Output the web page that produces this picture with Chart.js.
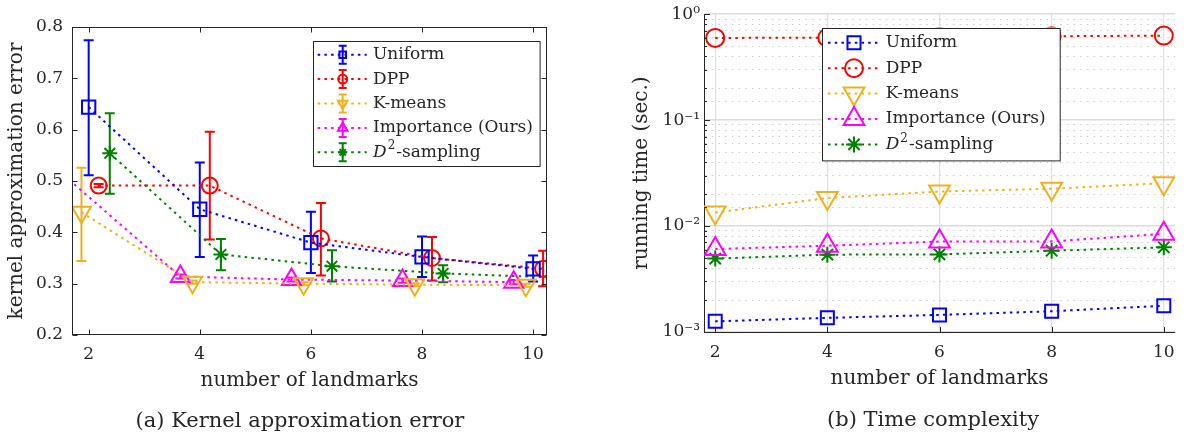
<!DOCTYPE html>
<html>
<head>
<meta charset="utf-8">
<script src="https://cdn.jsdelivr.net/npm/chart.js@4.4.0/dist/chart.umd.min.js"></script>
<style>
  body { margin: 0; background: #fff; width: 1189px; height: 434px; position: relative; overflow: hidden; }
  canvas { position: absolute; top: 0; }
  #errCanvas { left: 0; }
  #timeCanvas { left: 600px; }
  .caption { position: absolute; font-family: "DejaVu Serif"; font-size: 21px; line-height: 24px;
             color: #262626; white-space: nowrap; transform: translateX(-50%); }
</style>
</head>
<body>
<canvas id="errCanvas" width="600" height="434"></canvas>
<canvas id="timeCanvas" width="589" height="434"></canvas>
<div class="caption" style="left:300px; top:408px">(a) Kernel approximation error</div>
<div class="caption" style="left:933px; top:407px">(b) Time complexity</div>
<script>
// ---- data ----
const landmarks = [2, 4, 6, 8, 10];
const methods = ["Uniform", "DPP", "K-means", "Importance (Ours)", "D²-sampling"];
const errTicks = [0.2, 0.3, 0.4, 0.5, 0.6, 0.7, 0.8];

// small horizontal shift per method so the error bars don't sit on top of each other
const jitter = [0, 0.18, -0.13, -0.35, 0.38];

const errUniform   = [0.644, 0.445, 0.380, 0.352, 0.329];
const errUniformLo = [0.511, 0.352, 0.321, 0.313, 0.304];
const errUniformHi = [0.774, 0.536, 0.440, 0.392, 0.355];

const errDpp   = [0.491, 0.491, 0.388, 0.350, 0.329];
const errDppLo = [0.488, 0.386, 0.316, 0.306, 0.295];
const errDppHi = [0.494, 0.596, 0.457, 0.391, 0.364];

const errKmeans   = [0.439, 0.303, 0.300, 0.298, 0.297];
const errKmeansLo = [0.344, 0.300, 0.297, 0.295, 0.294];
const errKmeansHi = [0.526, 0.306, 0.303, 0.301, 0.300];

const errImp   = [0.502, 0.314, 0.308, 0.306, 0.303];
const errImpLo = [0.497, 0.310, 0.304, 0.302, 0.299];
const errImpHi = [0.507, 0.318, 0.312, 0.310, 0.307];

const errD2   = [0.554, 0.357, 0.334, 0.320, 0.312];
const errD2Lo = [0.475, 0.326, 0.304, 0.303, 0.300];
const errD2Hi = [0.632, 0.387, 0.365, 0.336, 0.324];

const timeUniform    = [0.00126, 0.00136, 0.00145, 0.00157, 0.00177];
const timeDpp        = [0.597, 0.600, 0.610, 0.619, 0.628];
const timeKmeans     = [0.0134, 0.0184, 0.0212, 0.0225, 0.0254];
const timeImportance = [0.00607, 0.00652, 0.00714, 0.00716, 0.00844];
const timeD2         = [0.00493, 0.00537, 0.00540, 0.00585, 0.00630];

// ---- look ----
const ink = "#262626";
const colors = ["#0000ff", "#ff0000", "#edb120", "#ff00ff", "#008000"];
const markers = ["rect", "circle", "triangle", "triangle", "star"];
const rotations = [0, 0, 180, 0, 0];
const errRange = [1.7, 10.25];
const dotted = [2.5, 4.2];

Chart.defaults.font.family = '"DejaVu Serif"';
Chart.defaults.color = ink;

const isDecade = v => Math.abs(Math.log10(v) - Math.round(Math.log10(v))) < 1e-6;
const supDigits = { "-": "⁻", "0": "⁰", "1": "¹", "2": "²", "3": "³" };
const decadeLabel = v => "10" + String(Math.round(Math.log10(v))).split("").map(c => supDigits[c]).join("");

function drawLabel(ctx, text, x, y) {
  if (text.startsWith("D²")) {
    ctx.font = 'italic 17px "DejaVu Serif"';
    ctx.fillText("D", x, y);
    x += ctx.measureText("D").width + 1;
    ctx.font = '12px "DejaVu Serif"';
    ctx.fillText("2", x, y - 6);
    x += ctx.measureText("2").width + 1;
    ctx.font = '17px "DejaVu Serif"';
    ctx.fillText(text.slice(2), x, y);
  } else {
    ctx.fillText(text, x, y);
  }
}

// MATLAB style boxed legend
const boxLegend = {
  id: "boxLegend",
  afterDraw(chart, args, o) {
    const { ctx, chartArea: a } = chart;
    const left = o.fromRight != null ? a.right - o.fromRight - o.width : a.left + o.fromLeft;
    const top = a.top + o.fromTop;
    ctx.save();
    ctx.fillStyle = "#fff";
    ctx.fillRect(left, top, o.width, o.height);
    ctx.strokeStyle = ink;
    ctx.lineWidth = 1;
    ctx.strokeRect(Math.round(left) + 0.5, Math.round(top) + 0.5, o.width, o.height);
    ctx.textBaseline = "middle";
    chart.data.datasets.forEach((ds, i) => {
      const y = top + o.firstRow + i * o.rowStep;
      const mx = left + o.markerX;
      ctx.strokeStyle = ds.borderColor;
      ctx.lineWidth = 2;
      ctx.setLineDash(dotted);
      ctx.beginPath();
      ctx.moveTo(left + o.lineFrom, y);
      ctx.lineTo(left + o.lineTo, y);
      ctx.stroke();
      ctx.setLineDash([]);
      if (o.errorBar) {
        ctx.beginPath();
        ctx.moveTo(mx, y - 9); ctx.lineTo(mx, y + 9);
        ctx.moveTo(mx - 4, y - 9); ctx.lineTo(mx + 4, y - 9);
        ctx.moveTo(mx - 4, y + 9); ctx.lineTo(mx + 4, y + 9);
        ctx.stroke();
      }
      ctx.fillStyle = "rgba(0,0,0,0)";
      Chart.helpers.drawPoint(ctx, {
        pointStyle: ds.pointStyle, rotation: ds.pointRotation || 0,
        radius: ds.legendR, borderWidth: 2
      }, mx, y);
      ctx.fillStyle = ink;
      ctx.font = '17px "DejaVu Serif"';
      drawLabel(ctx, ds.label, left + o.textX, y);
    });
    ctx.restore();
  }
};

// vertical error bars, read from dataset.lo / dataset.hi
const errorBars = {
  id: "errorBars",
  beforeDatasetsDraw(chart) {
    const { ctx, chartArea: a, scales: { x, y } } = chart;
    ctx.save();
    ctx.beginPath();
    ctx.rect(a.left, a.top, a.right - a.left, a.bottom - a.top);
    ctx.clip();
    chart.data.datasets.forEach(ds => {
      if (!ds.lo) return;
      ctx.strokeStyle = ds.borderColor;
      ctx.lineWidth = 2;
      ds.data.forEach((p, i) => {
        if (p.x < x.min || p.x > x.max) return;
        const px = x.getPixelForValue(p.x);
        const y0 = y.getPixelForValue(ds.lo[i]);
        const y1 = y.getPixelForValue(ds.hi[i]);
        ctx.beginPath();
        ctx.moveTo(px, y0); ctx.lineTo(px, y1);
        ctx.moveTo(px - 5, y0); ctx.lineTo(px + 5, y0);
        ctx.moveTo(px - 5, y1); ctx.lineTo(px + 5, y1);
        ctx.stroke();
      });
    });
    ctx.restore();
  }
};

// full box with inward ticks (left plot)
const boxFrame = {
  id: "boxFrame",
  afterDatasetsDraw(chart) {
    const { ctx, chartArea: a, scales: { x, y } } = chart;
    ctx.save();
    ctx.strokeStyle = ink;
    ctx.lineWidth = 1;
    const l = Math.round(a.left) + 0.5, r = Math.round(a.right) - 0.5;
    const t = Math.round(a.top) + 0.5, b = Math.round(a.bottom) - 0.5;
    ctx.strokeRect(l, t, r - l, b - t);
    ctx.beginPath();
    x.ticks.forEach(tk => {
      const px = Math.round(x.getPixelForValue(tk.value)) + 0.5;
      ctx.moveTo(px, b); ctx.lineTo(px, b - 5);
      ctx.moveTo(px, t); ctx.lineTo(px, t + 5);
    });
    y.ticks.forEach(tk => {
      const py = Math.round(y.getPixelForValue(tk.value)) + 0.5;
      ctx.moveTo(l, py); ctx.lineTo(l + 5, py);
      ctx.moveTo(r, py); ctx.lineTo(r - 5, py);
    });
    ctx.stroke();
    ctx.restore();
  }
};

// inward ticks on the log plot
const logTicks = {
  id: "logTicks",
  afterDatasetsDraw(chart) {
    const { ctx, chartArea: a, scales: { x, y } } = chart;
    ctx.save();
    ctx.strokeStyle = ink;
    ctx.lineWidth = 1;
    ctx.beginPath();
    y.ticks.forEach(tk => {
      const py = Math.round(y.getPixelForValue(tk.value)) + 0.5;
      ctx.moveTo(a.left, py); ctx.lineTo(a.left + (isDecade(tk.value) ? 6 : 3), py);
    });
    x.ticks.forEach(tk => {
      const px = Math.round(x.getPixelForValue(tk.value)) + 0.5;
      ctx.moveTo(px, a.bottom); ctx.lineTo(px, a.bottom - 5);
    });
    ctx.stroke();
    ctx.restore();
  }
};

function lineSet(i, points, r, legendR) {
  return {
    label: methods[i],
    data: points,
    borderColor: colors[i],
    borderWidth: 2,
    borderDash: dotted,
    fill: false,
    tension: 0,
    pointStyle: markers[i],
    pointRotation: rotations[i],
    pointRadius: r,
    pointBorderWidth: 2,
    pointBorderColor: colors[i],
    pointBackgroundColor: "rgba(0,0,0,0)",
    legendR: legendR
  };
}

// ---- (a) kernel approximation error ----
const errMeans = [errUniform, errDpp, errKmeans, errImp, errD2];
const errLows = [errUniformLo, errDppLo, errKmeansLo, errImpLo, errD2Lo];
const errHighs = [errUniformHi, errDppHi, errKmeansHi, errImpHi, errD2Hi];
const errSizes = [9.4, 8, 11, 11, 7.5];
const errLegendSizes = [4.7, 4.5, 5.5, 5.5, 4.5];

const errDatasets = errMeans.map((vals, k) => {
  const pts = landmarks.map((v, i) => ({ x: v + jitter[k], y: vals[i] }));
  const r = errSizes[k];
  const ds = lineSet(k, pts, ctx => (ctx.raw && (ctx.raw.x < errRange[0] || ctx.raw.x > errRange[1])) ? 0 : r, errLegendSizes[k]);
  ds.lo = errLows[k];
  ds.hi = errHighs[k];
  return ds;
});

new Chart(document.getElementById("errCanvas"), {
  type: "line",
  data: { datasets: errDatasets },
  options: {
    responsive: false,
    animation: false,
    devicePixelRatio: 1,
    layout: { padding: { left: 0, right: 53, top: 27, bottom: 41 } },
    plugins: {
      legend: { display: false },
      tooltip: { enabled: false },
      boxLegend: {
        fromRight: 7.7, fromTop: 14.4, width: 226.6, height: 125,
        firstRow: 13.3, rowStep: 24.4, lineFrom: 5, lineTo: 54, markerX: 30, textX: 60.3,
        errorBar: true
      }
    },
    scales: {
      x: {
        type: "linear",
        min: errRange[0], max: errRange[1],
        afterBuildTicks: s => { s.ticks = landmarks.map(v => ({ value: v })); },
        afterFit: s => { s.height = 58; },
        grid: { display: false, drawTicks: false },
        border: { display: false },
        ticks: { padding: 9, font: { size: 17 }, color: ink, maxRotation: 0 },
        title: { display: true, text: "number of landmarks", font: { size: 20 }, color: ink, padding: 0 }
      },
      y: {
        min: 0.2, max: 0.8,
        afterBuildTicks: s => { s.ticks = errTicks.map(v => ({ value: v })); },
        afterFit: s => { s.width = 72; },
        grid: { display: false, drawTicks: false },
        border: { display: false },
        ticks: { padding: 9, font: { size: 17 }, color: ink, callback: v => v.toFixed(1) },
        title: { display: true, text: "kernel approximation error", font: { size: 20 }, color: ink,
                 padding: { top: 4.5, bottom: 0 } }
      }
    }
  },
  plugins: [errorBars, boxFrame, boxLegend]
});

// ---- (b) time complexity ----
const timeSeries = [timeUniform, timeDpp, timeKmeans, timeImportance, timeD2];
const timeSizes = [9.2, 9, 12, 12, 8];

const timeDatasets = timeSeries.map((vals, k) =>
  lineSet(k, landmarks.map((v, i) => ({ x: v, y: vals[i] })), timeSizes[k], timeSizes[k]));

new Chart(document.getElementById("timeCanvas"), {
  type: "line",
  data: { datasets: timeDatasets },
  options: {
    responsive: false,
    animation: false,
    devicePixelRatio: 1,
    layout: { padding: { left: 26, right: 11, top: 10, bottom: 43 } },
    plugins: {
      legend: { display: false },
      tooltip: { enabled: false },
      boxLegend: {
        fromLeft: 118.3, fromTop: 13.3, width: 237.7, height: 132.4,
        firstRow: 15.3, rowStep: 25.4, lineFrom: 5.7, lineTo: 57.7, markerX: 31.7, textX: 63.4,
        errorBar: false
      }
    },
    scales: {
      x: {
        type: "linear",
        min: 1.8, max: 10.2,
        afterBuildTicks: s => { s.ticks = landmarks.map(v => ({ value: v })); },
        afterFit: s => { s.height = 59; },
        grid: { color: "#e0e0e0", lineWidth: 1.2, drawTicks: false },
        border: { display: true, color: ink, width: 1 },
        ticks: { padding: 10, font: { size: 17 }, color: ink, maxRotation: 0 },
        title: { display: true, text: "number of landmarks", font: { size: 20 }, color: ink, padding: 0 }
      },
      y: {
        type: "logarithmic",
        min: 0.001, max: 1,
        afterFit: s => { s.width = 78; },
        grid: {
          drawTicks: false,
          color: c => (c.tick && isDecade(c.tick.value)) ? "#dcdcdc" : "#cccccc",
          lineWidth: c => (c.tick && isDecade(c.tick.value)) ? 1.5 : 1
        },
        border: {
          display: true, color: ink, width: 1,
          dash: c => (c.tick && !isDecade(c.tick.value)) ? [1.5, 5.2] : []
        },
        ticks: {
          autoSkip: false, padding: 4, font: { size: 17 }, color: ink,
          callback: v => isDecade(v) ? decadeLabel(v) : ""
        },
        title: { display: true, text: "running time (sec.)", font: { size: 20 }, color: ink,
                 padding: { top: 4, bottom: 0 } }
      }
    }
  },
  plugins: [logTicks, boxLegend]
});
</script>
</body>
</html>
